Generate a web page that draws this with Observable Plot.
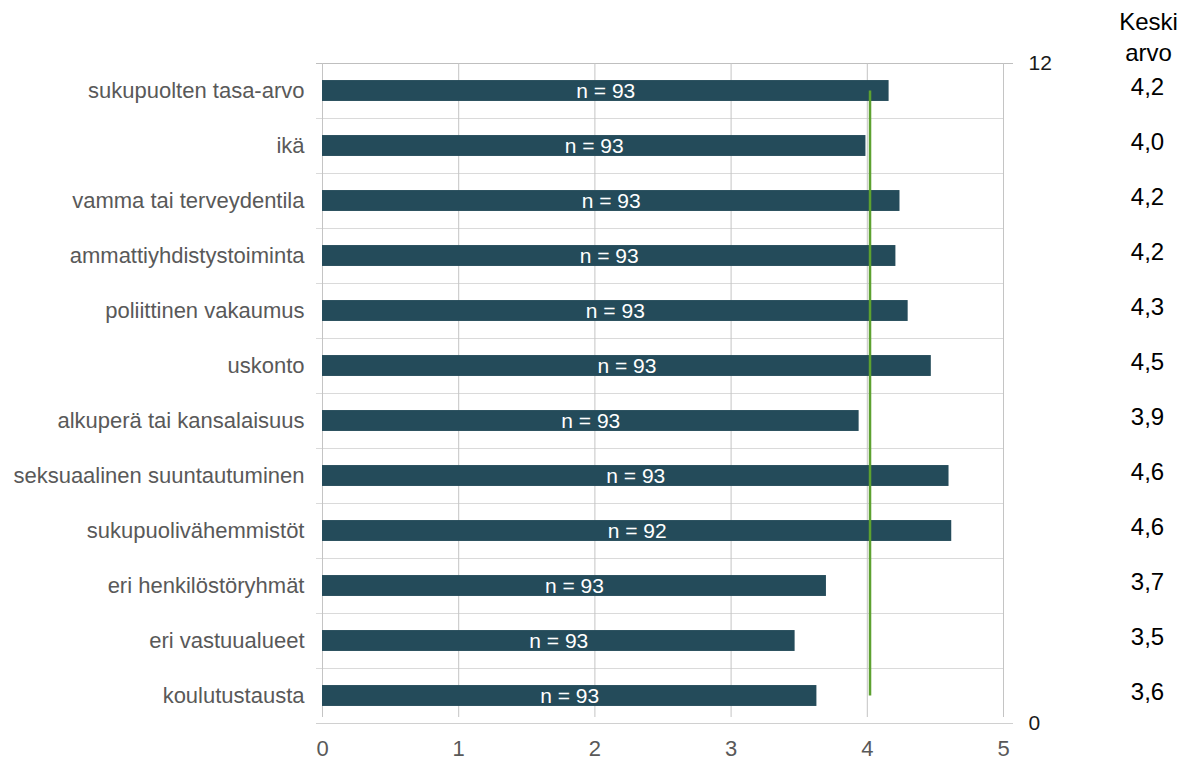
<!DOCTYPE html>
<html>
<head>
<meta charset="utf-8">
<script src="https://cdn.jsdelivr.net/npm/d3@7"></script>
<script src="https://cdn.jsdelivr.net/npm/@observablehq/plot@0.6"></script>
<style>
  body { margin: 0; background: #fff; }
</style>
</head>
<body>
<div id="chart"></div>
<script>
// Rows, listed top to bottom
const categories = [
  "sukupuolten tasa-arvo",
  "ikä",
  "vamma tai terveydentila",
  "ammattiyhdistystoiminta",
  "poliittinen vakaumus",
  "uskonto",
  "alkuperä tai kansalaisuus",
  "seksuaalinen suuntautuminen",
  "sukupuolivähemmistöt",
  "eri henkilöstöryhmät",
  "eri vastuualueet",
  "koulutustausta"
];
// Mean score per row (scale 0–5)
const means = [4.16, 3.99, 4.24, 4.21, 4.30, 4.47, 3.94, 4.60, 4.62, 3.70, 3.47, 3.63];
// Respondents per row
const counts = [93, 93, 93, 93, 93, 93, 93, 93, 92, 93, 93, 93];
// Overall mean drawn as the reference line
const overallMean = 4.02;
const xTicks = [0, 1, 2, 3, 4, 5];
const rightTicks = [0, 12];
const meanHeader = "Keski\narvo";

const nRows = categories.length;
const rows = categories.map((category, i) => ({
  category,
  mean: means[i],
  n: counts[i],
  pos: nRows - i - 0.5
}));
const fmt = v => v.toFixed(1).replace(".", ",");
const barHalf = 0.19;

const chart = Plot.plot({
  width: 1189,
  height: 760,
  marginLeft: 322,
  marginRight: 186,
  marginTop: 63,
  marginBottom: 37,
  style: {fontFamily: "'Liberation Sans', Arial, sans-serif", fontSize: "22px", background: "#fff"},
  x: {domain: [0, 5], axis: null},
  y: {domain: [0, nRows], axis: null},
  marks: [
    // row separators with short ticks on the left
    Plot.ruleY(d3.range(nRows + 1), {x1: 0, x2: 5, stroke: "#dadada", insetLeft: -6}),
    // top and bottom frame lines with ticks for the right-hand scale
    Plot.ruleY([nRows], {x1: 0, x2: 5, stroke: "#bfbfbf", insetLeft: -6, insetRight: -10}),
    Plot.ruleY([0], {x1: 0, x2: 5, stroke: "#d0d0d0", insetLeft: -6, insetRight: -10}),
    // vertical grid
    Plot.ruleX(xTicks, {y1: 0, y2: nRows, stroke: "#c4c4c4", insetTop: -6}),
    // bars
    Plot.rect(rows, {
      x1: 0, x2: "mean",
      y1: d => d.pos - barHalf, y2: d => d.pos + barHalf,
      fill: "#244b5a"
    }),
    // respondent counts inside the bars
    Plot.text(rows, {x: d => d.mean / 2, y: "pos", text: d => `n = ${d.n}`, fill: "white", fontSize: 21}),
    // overall mean line
    Plot.ruleX([overallMean], {y1: 0.5, y2: nRows - 0.5, stroke: "#5da130", strokeWidth: 2.5}),
    // category labels
    Plot.text(rows, {x: 0, y: "pos", text: "category", textAnchor: "end", dx: -18, fill: "#595959", fontSize: 22}),
    // mean values column
    Plot.text(rows, {x: 5, y: "pos", text: d => fmt(d.mean), dx: 144, dy: -4, fontSize: 24, fill: "#000"}),
    Plot.text([meanHeader], {x: 5, y: nRows, text: d => d, dx: 145, dy: -28, lineHeight: 1.3, fontSize: 24, fill: "#000"}),
    // axes
    Plot.axisX(xTicks, {tickSize: 0, tickPadding: 17, fill: "#595959", fontSize: 22, label: null, tickFormat: d => String(d)}),
    Plot.axisY(rightTicks, {anchor: "right", tickSize: 0, tickPadding: 25, fontSize: 21, fill: "#1a1a1a", label: null, tickFormat: d => String(d)})
  ]
});

document.getElementById("chart").append(chart);
</script>
</body>
</html>
